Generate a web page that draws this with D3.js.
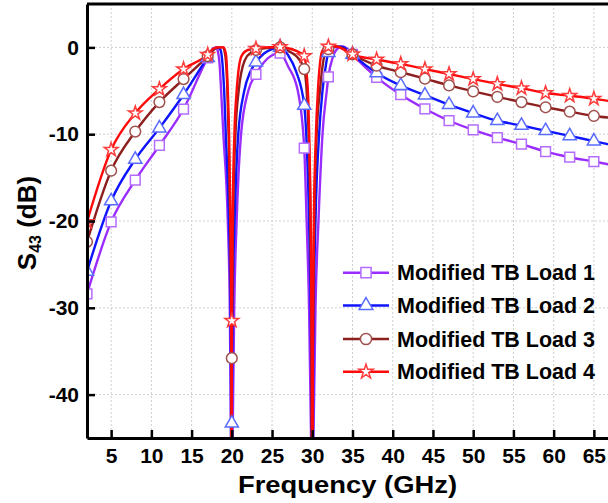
<!DOCTYPE html>
<html>
<head>
<meta charset="utf-8">
<script src="https://cdn.jsdelivr.net/npm/d3@7"></script>
<style>
  body { margin: 0; background: #fff; }
  svg text { font-family: "Liberation Sans", Arial, sans-serif; font-weight: bold; fill: #000; }
</style>
</head>
<body>
<svg id="chart" width="608" height="503"></svg>
<script>
// frequencies (GHz) where the simulation markers sit
var markerFreqs = [2, 5, 8, 11, 14, 17, 20, 23, 26, 29, 32, 35, 38, 41, 44, 47, 50, 53, 56, 59, 62, 65];
var xTicks = [5, 10, 15, 20, 25, 30, 35, 40, 45, 50, 55, 60, 65];
var yTicks = [0, -10, -20, -30, -40];
var seriesNames = ["Modified TB Load 1", "Modified TB Load 2", "Modified TB Load 3", "Modified TB Load 4"];

// [frequency GHz, S43 dB]
var load1 = [[2,-28.4],[5,-20.1],[8,-15.3],[11,-11.3],[14,-7.1],[17,-1.2],[17.7,-0.1],[18.05,0],[18.3,-0.6],[18.5,-2.2],
  [18.67,-5],[18.95,-10],[19.5,-20],[19.75,-30],[19.9,-45],[20,-55],[20.1,-45],[20.3,-30],[20.6,-20],[21.15,-10],
  [22.05,-5],[23,-3.1],[24,-1.7],[25,-0.9],[26,-0.65],[27,-2.2],[28.2,-5],[29,-11.6],[29.3,-20],[29.6,-30],
  [29.85,-45],[30,-60],[30.15,-45],[30.4,-30],[30.77,-20],[31.27,-10],[31.8,-5],[32,-3.4],[32.6,-1],[33.2,-0.1],
  [33.8,0.1],[34.4,-0.2],[35,-0.8],[38,-3.45],[41,-5.45],[44,-7.07],[47,-8.45],[50,-9.5],[53,-10.4],[56,-11.15],
  [59,-12.0],[62,-12.65],[65,-13.15],[67,-13.5]];
var load2 = [[2,-25.8],[5,-17.7],[8,-12.9],[11,-9.3],[14,-5.45],[17,-1.2],[17.8,-0.2],[18.2,0],[18.6,-0.3],[18.85,-2],
  [19.05,-5],[19.25,-10],[19.65,-20],[19.85,-30],[19.96,-55],[20,-43.3],[20.1,-30],[20.35,-20],[20.8,-10],[21.55,-5],
  [22.3,-2.8],[23,-1.7],[24,-0.7],[25,-0.2],[26,0],[27,-0.9],[28,-2.8],[29,-6.7],[29.25,-10],[29.6,-20],
  [29.85,-35],[30,-60],[30.12,-35],[30.4,-20],[30.85,-10],[31.27,-5],[31.7,-2],[32,-0.6],[32.6,0],[33.5,0.1],
  [34.3,-0.2],[35,-0.8],[38,-2.95],[41,-4.4],[44,-5.5],[47,-6.6],[50,-7.57],[53,-8.45],[56,-9.0],[59,-9.6],
  [62,-10.2],[65,-10.8],[67,-11.2]];
var load3 = [[2,-22.4],[5,-14.2],[8,-9.7],[11,-6.3],[14,-3.65],[17,-1.0],[17.8,-0.2],[18.3,0],[18.9,0],[19.2,-1],
  [19.45,-5],[19.6,-10],[19.8,-20],[19.92,-30],[19.98,-55],[20,-35.8],[20.15,-20],[20.45,-10],[20.85,-5],[21.6,-1.5],
  [22.5,-0.5],[23,-0.3],[24,-0.1],[26,0],[27,-0.4],[28,-1.0],[29,-2.5],[29.3,-5],[29.55,-10],[29.78,-20],
  [29.92,-35],[30,-60],[30.08,-35],[30.25,-20],[30.55,-10],[30.95,-5],[31.5,-1],[32,-0.2],[33,0.1],[34,-0.2],
  [35,-0.8],[38,-2.1],[41,-2.85],[44,-3.6],[47,-4.38],[50,-5.07],[53,-5.7],[56,-6.3],[59,-6.9],[62,-7.4],
  [65,-7.9],[67,-8.1]];
var load4 = [[2,-20.1],[5,-11.8],[8,-7.57],[11,-4.8],[14,-2.5],[17,-0.84],[17.8,-0.1],[18.3,0],[19.0,0],[19.3,-1],
  [19.5,-5],[19.66,-10],[19.83,-20],[19.93,-30],[19.98,-55],[20,-31.5],[20.1,-20],[20.32,-10],[20.6,-5],[21.2,-1],
  [22,-0.3],[23,-0.15],[24,0],[26,0.05],[27,-0.1],[28,-0.4],[29,-1.0],[29.3,-3],[29.5,-6],[29.62,-10],
  [29.8,-20],[29.93,-35],[30,-60],[30.07,-35],[30.2,-20],[30.45,-10],[30.7,-5],[31.2,-0.5],[31.6,0],[32,0.1],
  [33,0.1],[34,-0.3],[35,-0.8],[38,-1.4],[41,-1.9],[44,-2.5],[47,-3.07],[50,-3.65],[53,-4.2],[56,-4.7],
  [59,-5.26],[62,-5.57],[65,-5.9],[67,-6.2]];

var lineColors = ["#9a2cff", "#0f14ff", "#8e1f1f", "#ff0a0a"];
var markColors = ["#b46cff", "#5a6cff", "#a0504c", "#ff3b3b"];
var symbols = [d3.symbolSquare, d3.symbolTriangle, d3.symbolCircle, d3.symbolStar];
var symSizes = [95, 75, 90, 58];
var allSeries = [load1, load2, load3, load4];

var margin = { top: 4, right: 0, bottom: 65, left: 87 };
var svg = d3.select("#chart");
var W = 608, H = 503;
var plotRight = 618;

var x = d3.scaleLinear().domain([2, 68]).range([margin.left, plotRight]);
var y = d3.scaleLinear().domain([-45, 5]).range([H - margin.bottom, margin.top]);

svg.append("defs").append("clipPath").attr("id", "clip")
  .append("rect")
  .attr("x", x(2)).attr("y", y(5))
  .attr("width", x(68) - x(2)).attr("height", y(-45) - y(5));

// grid
var grid = svg.append("g");
grid.selectAll(".vg").data(xTicks).enter().append("line")
  .attr("x1", d => x(d)).attr("x2", d => x(d))
  .attr("y1", y(5)).attr("y2", y(-45))
  .attr("stroke", "#cfcfcf").attr("stroke-width", 1).attr("stroke-dasharray", "2,2");
grid.selectAll(".hg").data(yTicks).enter().append("line")
  .attr("x1", x(2)).attr("x2", x(68))
  .attr("y1", d => y(d)).attr("y2", d => y(d))
  .attr("stroke", "#cfcfcf").attr("stroke-width", 1).attr("stroke-dasharray", "2,2");

// curves
var line = d3.line()
  .x(d => x(d[0]))
  .y(d => y(d[1]))
  .curve(d3.curveMonotoneX);

var plot = svg.append("g").attr("clip-path", "url(#clip)");
allSeries.forEach(function (s, i) {
  plot.append("path")
    .datum(s)
    .attr("d", line)
    .attr("fill", "none")
    .attr("stroke", lineColors[i])
    .attr("stroke-width", 2.4);
});

// markers
allSeries.forEach(function (s, i) {
  var pts = s.filter(d => markerFreqs.indexOf(d[0]) >= 0 && d[1] >= -45);
  plot.selectAll(".m" + i).data(pts).enter().append("path")
    .attr("d", d3.symbol().type(symbols[i]).size(symSizes[i]))
    .attr("transform", d => "translate(" + x(d[0]) + "," + y(d[1]) + ")")
    .attr("fill", "#fff")
    .attr("stroke", markColors[i])
    .attr("stroke-width", 1.5);
});

// axes
var xAxis = svg.append("g")
  .attr("transform", "translate(0," + y(-45) + ")")
  .call(d3.axisBottom(x).tickValues(xTicks).tickSize(-8).tickSizeOuter(0).tickPadding(10));
var yAxis = svg.append("g")
  .attr("transform", "translate(" + x(2) + ",0)")
  .call(d3.axisLeft(y).tickValues(yTicks).tickSize(-8).tickSizeOuter(0).tickPadding(8)
    .tickFormat(d => String(d)));

[xAxis, yAxis].forEach(function (a) {
  a.select(".domain").attr("stroke", "#000").attr("stroke-width", 3);
  a.selectAll(".tick line").attr("stroke", "#000").attr("stroke-width", 2.5);
  a.selectAll(".tick text").attr("font-size", 21).attr("fill", "#000");
});

// top frame
svg.append("line")
  .attr("x1", x(2)).attr("x2", W)
  .attr("y1", y(5)).attr("y2", y(5))
  .attr("stroke", "#000").attr("stroke-width", 3);

// axis titles
svg.append("text")
  .attr("x", 238).attr("y", 493)
  .attr("font-size", 24)
  .attr("textLength", 219).attr("lengthAdjust", "spacingAndGlyphs")
  .text("Frequency (GHz)");

var yl = svg.append("text")
  .attr("transform", "translate(36,223) rotate(-90)")
  .attr("text-anchor", "middle")
  .attr("font-size", 26);
yl.append("tspan").text("S");
yl.append("tspan").attr("font-size", 16).attr("dy", 5).text("43");
yl.append("tspan").attr("dy", -5).text(" (dB)");

// legend
var legendY = [272.7, 305.5, 339, 371.7];
var legend = svg.append("g");
seriesNames.forEach(function (name, i) {
  var ly = legendY[i];
  legend.append("line")
    .attr("x1", 343).attr("x2", 389)
    .attr("y1", ly).attr("y2", ly)
    .attr("stroke", lineColors[i]).attr("stroke-width", 2.4);
  legend.append("path")
    .attr("d", d3.symbol().type(symbols[i]).size(symSizes[i] * 1.1))
    .attr("transform", "translate(366," + ly + ")")
    .attr("fill", "#fff")
    .attr("stroke", markColors[i])
    .attr("stroke-width", 1.5);
  legend.append("text")
    .attr("x", 397).attr("y", ly).attr("dy", "0.36em")
    .attr("font-size", 21.5)
    .attr("textLength", 198).attr("lengthAdjust", "spacingAndGlyphs")
    .text(name);
});
</script>
</body>
</html>
